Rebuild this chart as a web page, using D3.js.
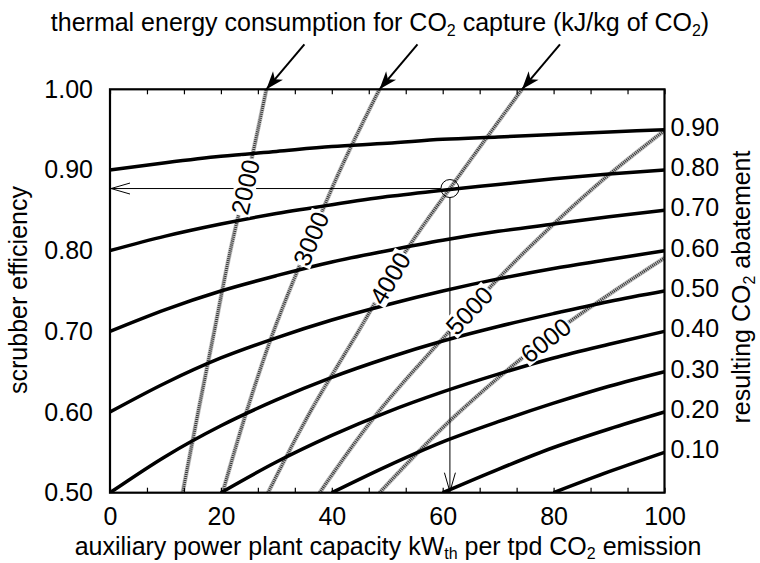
<!DOCTYPE html>
<html>
<head>
<meta charset="utf-8">
<script src="https://cdn.jsdelivr.net/npm/d3@7"></script>
<style>
  body { margin: 0; background: #fff; }
  svg { display: block; font-family: "Liberation Sans", Arial, sans-serif; }
</style>
</head>
<body>
<svg id="chart" width="760" height="563"></svg>
<script>
// ---- data ----
// x = auxiliary power plant capacity (kW_th per tpd CO2), y = scrubber efficiency
const capacityGrid = [0, 10, 20, 30, 40, 50, 60, 70, 80, 90, 100];

// constant CO2-abatement contours (efficiency at each grid point, from where the curve enters the plot)
const abatementLabels = ["0.90", "0.80", "0.70", "0.60", "0.50", "0.40", "0.30", "0.20", "0.10"];
const abate90 = [0.900, 0.909, 0.917, 0.923, 0.929, 0.933, 0.938, 0.941, 0.944, 0.947, 0.950];
const abate80 = [0.800, 0.818, 0.833, 0.846, 0.857, 0.867, 0.875, 0.882, 0.889, 0.895, 0.900];
const abate70 = [0.700, 0.727, 0.750, 0.769, 0.786, 0.800, 0.813, 0.824, 0.833, 0.842, 0.850];
const abate60 = [0.600, 0.636, 0.667, 0.692, 0.714, 0.733, 0.750, 0.765, 0.778, 0.789, 0.800];
const abate50 = [0.500, 0.545, 0.583, 0.615, 0.643, 0.667, 0.688, 0.706, 0.722, 0.737, 0.750];
const abate40 = [0.500, 0.538, 0.571, 0.600, 0.625, 0.647, 0.667, 0.684, 0.700];
const abate30 = [0.500, 0.533, 0.563, 0.588, 0.611, 0.632, 0.650];
const abate20 = [0.500, 0.529, 0.556, 0.579, 0.600];
const abate10 = [0.500, 0.526, 0.550];

// thermal energy consumption lines (kJ/kg CO2): capacity at given efficiencies
const thermalLevels = ["2000", "3000", "4000", "5000", "6000"];
const thermalEff = [0.5, 0.6, 0.7, 0.8, 0.9, 1.0];
const thermal2000 = [13.1, 15.9, 18.8, 21.7, 25.1, 28.2];
const thermal3000 = [20.3, 24.6, 29.5, 35.3, 41.5, 48.6];
const thermal4000 = [28.5, 36.1, 44.8, 53.4, 63.7, 74.3];
const thermal5000Eff = [0.5, 0.6, 0.7, 0.8, 0.9, 0.949];
const thermal5000 = [37.8, 48.4, 61.2, 75.0, 91.0, 100];
const thermal6000Eff = [0.5, 0.6, 0.7, 0.791];
const thermal6000 = [48.6, 63.0, 80.5, 100];
const thermalLabelEff = [0.879, 0.815, 0.766, 0.726, 0.689];

// example operating point
const pointCapacity = 61.3;
const pointEff = 0.877;

const xTicks = [0, 20, 40, 60, 80, 100];
const yTicks = [0.5, 0.6, 0.7, 0.8, 0.9, 1.0];

// ---- layout ----
const svg = d3.select("#chart");
const plotL = 110, plotR = 664.5, plotT = 89.3, plotB = 492.7;
const fs = 25, subFs = 16;

const x = d3.scaleLinear().domain([0, 100]).range([plotL, plotR]);
const y = d3.scaleLinear().domain([0.5, 1.0]).range([plotB, plotT]);

const defs = svg.append("defs");
defs.append("clipPath").attr("id", "plot")
  .append("rect").attr("x", plotL).attr("y", plotT)
  .attr("width", plotR - plotL).attr("height", plotB - plotT);

defs.append("marker").attr("id", "solidHead")
  .attr("markerUnits", "userSpaceOnUse").attr("orient", "auto")
  .attr("viewBox", "-20 -8 22 16").attr("markerWidth", 22).attr("markerHeight", 16)
  .attr("refX", 0).attr("refY", 0)
  .append("path").attr("d", "M0,0 L-18,-6.5 L-13,0 L-18,6.5 Z").attr("fill", "#000");

defs.append("marker").attr("id", "openHead")
  .attr("markerUnits", "userSpaceOnUse").attr("orient", "auto")
  .attr("viewBox", "-20 -8 22 16").attr("markerWidth", 22).attr("markerHeight", 16)
  .attr("refX", 0).attr("refY", 0)
  .append("path").attr("d", "M-19,-5.5 L0,0 L-19,5.5")
  .attr("fill", "none").attr("stroke", "#000").attr("stroke-width", 1);

const plot = svg.append("g").attr("clip-path", "url(#plot)");

// thermal energy lines (grey hatched)
const thermalSets = [
  { eff: thermalEff, cap: thermal2000 },
  { eff: thermalEff, cap: thermal3000 },
  { eff: thermalEff, cap: thermal4000 },
  { eff: thermal5000Eff, cap: thermal5000 },
  { eff: thermal6000Eff, cap: thermal6000 }
].map((s, i) => ({ name: thermalLevels[i], labelEff: thermalLabelEff[i],
  pts: s.eff.map((e, j) => [s.cap[j], e]) }));

const thermalLine = d3.line()
  .x(d => x(d[0])).y(d => y(d[1]))
  .curve(d3.curveMonotoneY);

thermalSets.forEach(s => {
  plot.append("path").attr("d", thermalLine(s.pts))
    .attr("fill", "none").attr("stroke", "#c4c4c4").attr("stroke-width", 4.5);
  plot.append("path").attr("d", thermalLine(s.pts))
    .attr("fill", "none").attr("stroke", "#333").attr("stroke-width", 3)
    .attr("stroke-dasharray", "1 1");
});

// abatement contours (black)
const abateSets = [abate90, abate80, abate70, abate60, abate50, abate40, abate30, abate20, abate10]
  .map((vals, i) => ({
    label: abatementLabels[i],
    pts: vals.map((v, j) => [capacityGrid[capacityGrid.length - vals.length + j], v])
  }));

const abateLine = d3.line()
  .x(d => x(d[0])).y(d => y(d[1]))
  .curve(d3.curveMonotoneX);

abateSets.forEach(s => {
  plot.append("path").attr("d", abateLine(s.pts))
    .attr("fill", "none").attr("stroke", "#000").attr("stroke-width", 3.5);
});

// operating point with arrows to both axes
const px = x(pointCapacity), py = y(pointEff), r = 9;
svg.append("circle").attr("cx", px).attr("cy", py).attr("r", r)
  .attr("fill", "none").attr("stroke", "#000").attr("stroke-width", 1);
svg.append("line").attr("x1", px - r).attr("y1", py).attr("x2", x(0) + 1).attr("y2", py)
  .attr("stroke", "#000").attr("stroke-width", 1).attr("marker-end", "url(#openHead)");
svg.append("line").attr("x1", px).attr("y1", py + r).attr("x2", px).attr("y2", y(0.5) - 1)
  .attr("stroke", "#000").attr("stroke-width", 1).attr("marker-end", "url(#openHead)");

// labels on the thermal lines, on a white box so lines break around them
thermalSets.forEach(s => {
  const toCap = d3.scaleLinear().domain(s.pts.map(d => d[1])).range(s.pts.map(d => d[0]));
  const cx = x(toCap(s.labelEff)), cy = y(s.labelEff);
  const ax = x(toCap(s.labelEff - 0.03)), ay = y(s.labelEff - 0.03);
  const bx = x(toCap(s.labelEff + 0.03)), by = y(s.labelEff + 0.03);
  const ang = Math.atan2(by - ay, bx - ax) * 180 / Math.PI;
  const g = svg.append("g").attr("transform", `translate(${cx},${cy}) rotate(${ang})`);
  const t = g.append("text").attr("text-anchor", "middle").attr("dy", "0.36em")
    .attr("font-size", fs).text(s.name);
  const bb = t.node().getBBox();
  g.insert("rect", "text").attr("x", bb.x - 1).attr("y", bb.y + 3)
    .attr("width", bb.width + 2).attr("height", bb.height - 6).attr("fill", "#fff");
});

// abatement labels at right-hand ends
abateSets.forEach(s => {
  const last = s.pts[s.pts.length - 1];
  svg.append("text").attr("x", plotR + 6).attr("y", y(last[1]) - 3)
    .attr("dy", "0.36em").attr("font-size", fs).text(s.label);
});

// frame with inward ticks on top and bottom
const minorTicks = d3.range(0, 100.001, 100 / 15);
svg.append("g").attr("transform", `translate(0,${plotB})`)
  .call(d3.axisBottom(x).tickValues(minorTicks).tickSize(-5).tickFormat(""))
  .call(g => g.select(".domain").remove())
  .call(g => g.selectAll("line").attr("stroke-width", 1.2));
svg.append("g").attr("transform", `translate(0,${plotT})`)
  .call(d3.axisTop(x).tickValues(minorTicks).tickSize(-5).tickFormat(""))
  .call(g => g.select(".domain").remove())
  .call(g => g.selectAll("line").attr("stroke-width", 1.2));
svg.append("rect").attr("x", plotL).attr("y", plotT)
  .attr("width", plotR - plotL).attr("height", plotB - plotT)
  .attr("fill", "none").attr("stroke", "#000").attr("stroke-width", 2.2);

// tick labels
svg.append("g").attr("transform", `translate(0,${plotB})`)
  .call(d3.axisBottom(x).tickValues(xTicks).tickSize(0).tickPadding(15))
  .call(g => g.select(".domain").remove())
  .call(g => g.selectAll("text").attr("font-size", fs).attr("font-family", null).attr("fill", "#000"));
svg.append("g").attr("transform", `translate(${plotL},0)`)
  .call(d3.axisLeft(y).tickValues(yTicks).tickSize(0).tickPadding(17).tickFormat(d3.format(".2f")))
  .call(g => g.select(".domain").remove())
  .call(g => g.selectAll("text").attr("font-size", fs).attr("font-family", null).attr("fill", "#000"));

// titles
const sub = (t, s, rest, shift) => {
  t.append("tspan").attr("font-size", subFs).attr("dy", shift).text(s);
  t.append("tspan").attr("dy", -shift).text(rest);
};

const headT = svg.append("text").attr("x", 380).attr("y", 31)
  .attr("text-anchor", "middle").attr("font-size", fs);
headT.append("tspan").text("thermal energy consumption for CO");
sub(headT, "2", " capture (kJ/kg of CO", 5);
sub(headT, "2", ")", 5);

const xt = svg.append("text").attr("x", 388).attr("y", 555)
  .attr("text-anchor", "middle").attr("font-size", fs);
xt.append("tspan").text("auxiliary power plant capacity kW");
sub(xt, "th", " per tpd CO", 4);
sub(xt, "2", " emission", 4);

svg.append("text").attr("transform", "translate(27,290) rotate(-90)")
  .attr("text-anchor", "middle").attr("font-size", fs).text("scrubber efficiency");

const rt = svg.append("text").attr("transform", "translate(750,287) rotate(-90)")
  .attr("text-anchor", "middle").attr("font-size", fs);
rt.append("tspan").text("resulting CO");
sub(rt, "2", " abatement", 5);

// arrows from the heading to the first three thermal lines
[thermal2000, thermal3000, thermal4000].forEach(c => {
  const tx = x(c[c.length - 1]), ty = y(1.0);
  svg.append("line").attr("x1", tx + 38).attr("y1", ty - 45).attr("x2", tx).attr("y2", ty)
    .attr("stroke", "#000").attr("stroke-width", 2).attr("marker-end", "url(#solidHead)");
});
</script>
</body>
</html>
